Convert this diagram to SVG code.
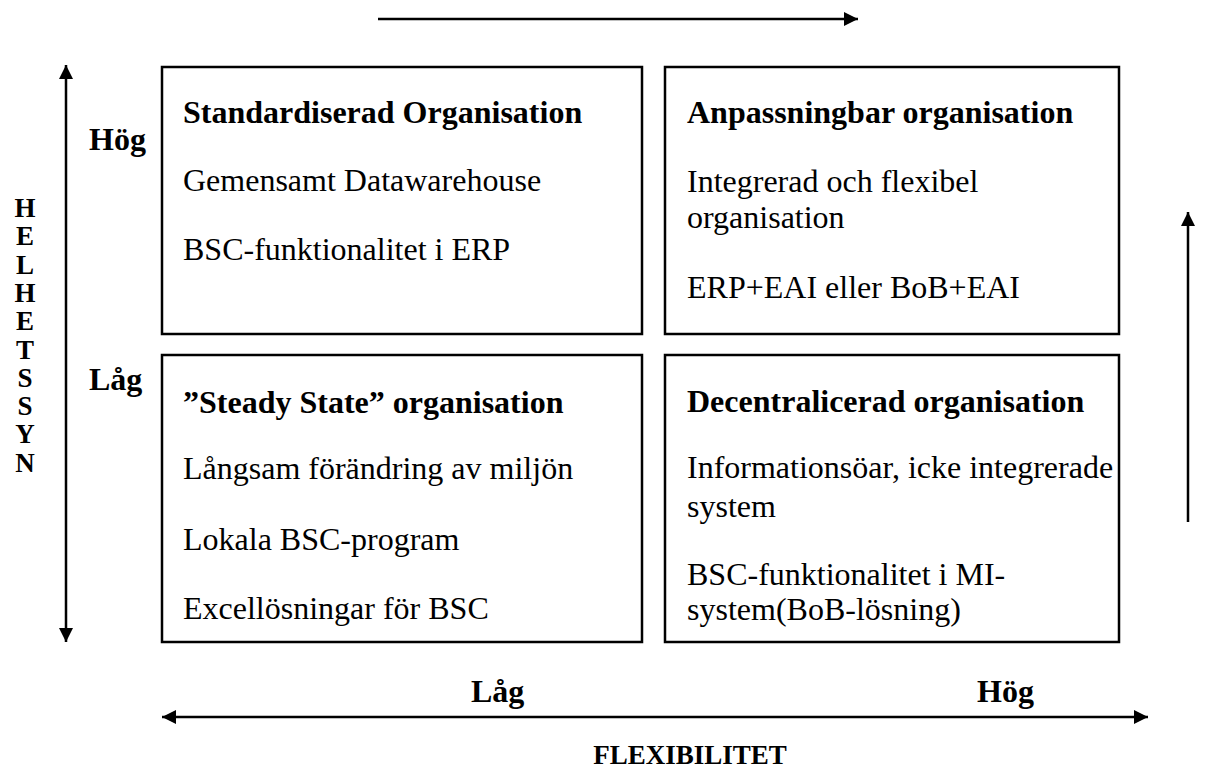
<svg xmlns="http://www.w3.org/2000/svg" width="1223" height="771" viewBox="0 0 1223 771">
<style>
.box{fill:#fff;stroke:#000;stroke-width:2.5}
.t{font-family:"Liberation Serif","Times New Roman",serif;font-size:32px;fill:#000}
.b{font-weight:bold}
.v{font-size:27px}
.f{font-size:27px}
.ln{stroke:#000;stroke-width:2.5;fill:none}
</style>
<defs>
<marker id="ah" viewBox="0 0 10 10" refX="10" refY="5" markerWidth="6.4" markerHeight="5.6" markerUnits="strokeWidth" orient="auto-start-reverse">
<path d="M0,0 L10,5 L0,10 z" fill="#000"/>
</marker>
</defs>
<rect width="1223" height="771" fill="#fff"/>
<g id="connectors">
<line class="ln" x1="378" y1="19" x2="858" y2="19" marker-end="url(#ah)"/>
<line class="ln" x1="66" y1="65" x2="66" y2="642" marker-start="url(#ah)" marker-end="url(#ah)"/>
<line class="ln" x1="1188" y1="522" x2="1188" y2="212" marker-end="url(#ah)"/>
<line class="ln" x1="162" y1="717" x2="1148" y2="717" marker-start="url(#ah)" marker-end="url(#ah)"/>
</g>
<g id="axis-labels">
<text class="t b" x="89" y="150">Hög</text>
<text class="t b" x="89" y="390">Låg</text>
<text class="t b" x="471" y="702">Låg</text>
<text class="t b" x="977" y="702">Hög</text>
<text class="t b f" x="690" y="764" text-anchor="middle">FLEXIBILITET</text>
<text class="t b v" x="25" y="217" text-anchor="middle">H</text>
<text class="t b v" x="25" y="245.3" text-anchor="middle">E</text>
<text class="t b v" x="25" y="273.6" text-anchor="middle">L</text>
<text class="t b v" x="25" y="301.9" text-anchor="middle">H</text>
<text class="t b v" x="25" y="330.2" text-anchor="middle">E</text>
<text class="t b v" x="25" y="358.5" text-anchor="middle">T</text>
<text class="t b v" x="25" y="386.8" text-anchor="middle">S</text>
<text class="t b v" x="25" y="415.1" text-anchor="middle">S</text>
<text class="t b v" x="25" y="443.4" text-anchor="middle">Y</text>
<text class="t b v" x="25" y="471.7" text-anchor="middle">N</text>
</g>
<g id="node-standardiserad">
<rect class="box" x="162" y="67" width="480" height="267"/>
<text class="t b" x="183" y="123">Standardiserad Organisation</text>
<text class="t" x="183" y="191">Gemensamt Datawarehouse</text>
<text class="t" x="183" y="260">BSC-funktionalitet i ERP</text>
</g>
<g id="node-anpassningbar">
<rect class="box" x="665" y="67" width="454" height="267"/>
<text class="t b" x="687" y="123">Anpassningbar organisation</text>
<text class="t" x="687" y="192">Integrerad och flexibel</text>
<text class="t" x="687" y="228">organisation</text>
<text class="t" x="687" y="298">ERP+EAI eller BoB+EAI</text>
</g>
<g id="node-steady">
<rect class="box" x="162" y="355" width="480" height="287"/>
<text class="t b" x="183" y="413">”Steady State” organisation</text>
<text class="t" x="183" y="479">Långsam förändring av miljön</text>
<text class="t" x="183" y="550">Lokala BSC-program</text>
<text class="t" x="183" y="619">Excellösningar för BSC</text>
</g>
<g id="node-decentraliserad">
<rect class="box" x="665" y="355" width="454" height="287"/>
<text class="t b" x="687" y="412">Decentralicerad organisation</text>
<text class="t" x="687" y="478">Informationsöar, icke integrerade</text>
<text class="t" x="687" y="517">system</text>
<text class="t" x="687" y="585">BSC-funktionalitet i MI-</text>
<text class="t" x="687" y="620">system(BoB-lösning)</text>
</g>
</svg>
